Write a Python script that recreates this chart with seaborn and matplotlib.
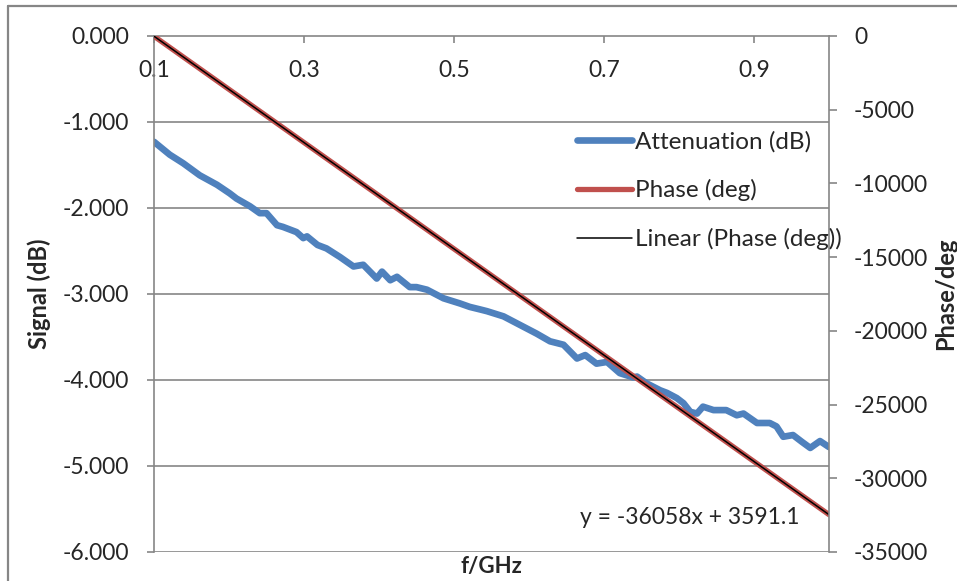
import numpy as np
import pandas as pd
import matplotlib
matplotlib.use("Agg")
import matplotlib.pyplot as plt
from matplotlib.lines import Line2D
from matplotlib.ticker import FixedLocator, FuncFormatter
import seaborn as sns

# Measured attenuation vs frequency
freq_att = [0.100, 0.121, 0.139, 0.161, 0.184, 0.201, 0.210, 0.228, 0.241, 0.250,
            0.264, 0.272, 0.290, 0.299, 0.304, 0.318, 0.330, 0.348, 0.366, 0.379,
            0.397, 0.404, 0.415, 0.424, 0.441, 0.450, 0.464, 0.486, 0.508, 0.521,
            0.535, 0.544, 0.566, 0.588, 0.610, 0.628, 0.646, 0.664, 0.675, 0.690,
            0.704, 0.721, 0.739, 0.744, 0.757, 0.775, 0.784, 0.797, 0.806, 0.815,
            0.824, 0.832, 0.846, 0.863, 0.877, 0.886, 0.904, 0.921, 0.930, 0.939,
            0.952, 0.964, 0.975, 0.988, 1.000]
attenuation_db = [-1.23, -1.38, -1.48, -1.62, -1.73, -1.83, -1.89, -1.98, -2.06, -2.06,
                  -2.20, -2.22, -2.28, -2.35, -2.33, -2.43, -2.47, -2.57, -2.68, -2.66,
                  -2.82, -2.74, -2.84, -2.80, -2.92, -2.92, -2.95, -3.05, -3.11, -3.15,
                  -3.18, -3.20, -3.26, -3.36, -3.46, -3.55, -3.59, -3.75, -3.71, -3.81,
                  -3.79, -3.92, -3.97, -3.96, -4.04, -4.12, -4.15, -4.21, -4.27, -4.37,
                  -4.39, -4.31, -4.35, -4.35, -4.41, -4.39, -4.50, -4.50, -4.54, -4.66,
                  -4.64, -4.72, -4.79, -4.71, -4.78]

# Measured phase vs frequency
freq_phase = [0.1, 0.2, 0.3, 0.4, 0.5, 0.6, 0.7, 0.8, 0.9, 1.0]
phase_deg = [-15, -3620, -7225, -10830, -14440, -18045, -21650, -25255, -28860, -32465]

# Linear trendline of the phase
trend_slope = -36058
trend_intercept = 3591.1

x_ticks = [0.1, 0.3, 0.5, 0.7, 0.9]
signal_ticks = [0, -1, -2, -3, -4, -5, -6]
phase_ticks = [0, -5000, -10000, -15000, -20000, -25000, -30000, -35000]

BLUE = "#4F81BD"
RED = "#C0504D"
GRID = "#868686"
TEXT = "#262626"

sns.set_theme(style="white")
plt.rcParams["font.family"] = ["Lato", "DejaVu Sans"]
FS = 16.5
LEG_FS = 17.5

att_df = pd.DataFrame({"f": freq_att, "att": attenuation_db})
ph_df = pd.DataFrame({"f": freq_phase, "phase": phase_deg})

W, H = 957, 581
fig = plt.figure(figsize=(W / 100, H / 100), dpi=100)
left, right, top, bottom = 154, 829, 36, 552
ax = fig.add_axes([left / W, 1 - bottom / H, (right - left) / W, (bottom - top) / H])
ax.patch.set_alpha(0)

sns.lineplot(data=att_df, x="f", y="att", ax=ax, color=BLUE, linewidth=4.8,
             solid_capstyle="round", solid_joinstyle="round", legend=False)
ax.set_xlim(0.1, 1.0)
ax.set_ylim(-6, 0)

# horizontal gridlines
for v in signal_ticks[1:]:
    ax.axhline(v, color=GRID, linewidth=1.2, zorder=0)

ax.xaxis.set_major_locator(FixedLocator(x_ticks))
ax.xaxis.set_major_formatter(FuncFormatter(lambda v, p: f"{v:.1f}"))
ax.yaxis.set_major_locator(FixedLocator(signal_ticks))
ax.yaxis.set_major_formatter(FuncFormatter(lambda v, p: f"{v:.3f}"))

for s in ["top", "right"]:
    ax.spines[s].set_visible(False)
ax.spines["bottom"].set_position(("data", 0))
ax.spines["bottom"].set_color(GRID)
ax.spines["bottom"].set_linewidth(1.2)
ax.spines["left"].set_color(GRID)
ax.spines["left"].set_linewidth(1.2)

ax.tick_params(axis="x", direction="out", length=5, width=1.2, color=GRID,
               labelsize=FS, labelcolor=TEXT, pad=12, bottom=True)
ax.tick_params(axis="y", direction="out", length=5, width=1.2, color=GRID,
               labelsize=FS, labelcolor=TEXT, pad=13, left=True)
ax.set_xlabel("")
ax.set_ylabel("")

ax2 = ax.twinx()
sns.lineplot(data=ph_df, x="f", y="phase", ax=ax2, color=RED, linewidth=3.8,
             legend=False)
fx = np.array([min(freq_phase), max(freq_phase)])
ax2.plot(fx, trend_slope * fx + trend_intercept, color="black", linewidth=1.1)
ax2.set_ylim(-35000, 0)
ax2.set_xlim(0.1, 1.0)
ax2.yaxis.set_major_locator(FixedLocator(phase_ticks))
ax2.yaxis.set_major_formatter(FuncFormatter(lambda v, p: f"{int(v)}"))
for s in ["top", "bottom", "left"]:
    ax2.spines[s].set_visible(False)
ax2.spines["right"].set_color(GRID)
ax2.spines["right"].set_linewidth(1.2)
ax2.tick_params(axis="y", direction="out", length=6, width=1.2, color=GRID,
                labelsize=FS, labelcolor=TEXT, pad=12, right=True)
ax2.set_ylabel("")

# axis titles
fig.text(491 / W, 1 - 567 / H, "f/GHz", ha="center", va="center",
         fontsize=16, fontweight="bold", color=TEXT)
fig.text(39 / W, 1 - 294 / H, "Signal (dB)", ha="center", va="center",
         rotation=90, fontsize=17, fontweight="bold", color=TEXT)
fig.text(946 / W, 1 - 294 / H, "Phase/deg", ha="center", va="center",
         rotation=90, fontsize=17, fontweight="bold", color=TEXT)

# trendline equation
ax2.text(0.668, -32650, f"y = {trend_slope}x + {trend_intercept}", ha="left",
         va="center", fontsize=FS, color=TEXT)

handles = [Line2D([], [], color=BLUE, linewidth=4.8),
           Line2D([], [], color=RED, linewidth=3.8),
           Line2D([], [], color="black", linewidth=1.1)]
labels = ["Attenuation (dB)", "Phase (deg)", "Linear (Phase (deg))"]
fig.legend(handles, labels, loc="upper left", bbox_to_anchor=(577 / W, 1 - 131 / H),
           frameon=False, fontsize=LEG_FS, handlelength=2.25, handletextpad=0.15,
           labelspacing=1.1, borderpad=0, borderaxespad=0, labelcolor=TEXT)

# outer chart border
fig.add_artist(Line2D([8 / W, 8 / W], [0, 1 - 6 / H], transform=fig.transFigure,
                      color=GRID, linewidth=1.6))
fig.add_artist(Line2D([8 / W, 1], [1 - 6 / H, 1 - 6 / H], transform=fig.transFigure,
                      color=GRID, linewidth=1.6))

fig.savefig("out.png", dpi=100)
